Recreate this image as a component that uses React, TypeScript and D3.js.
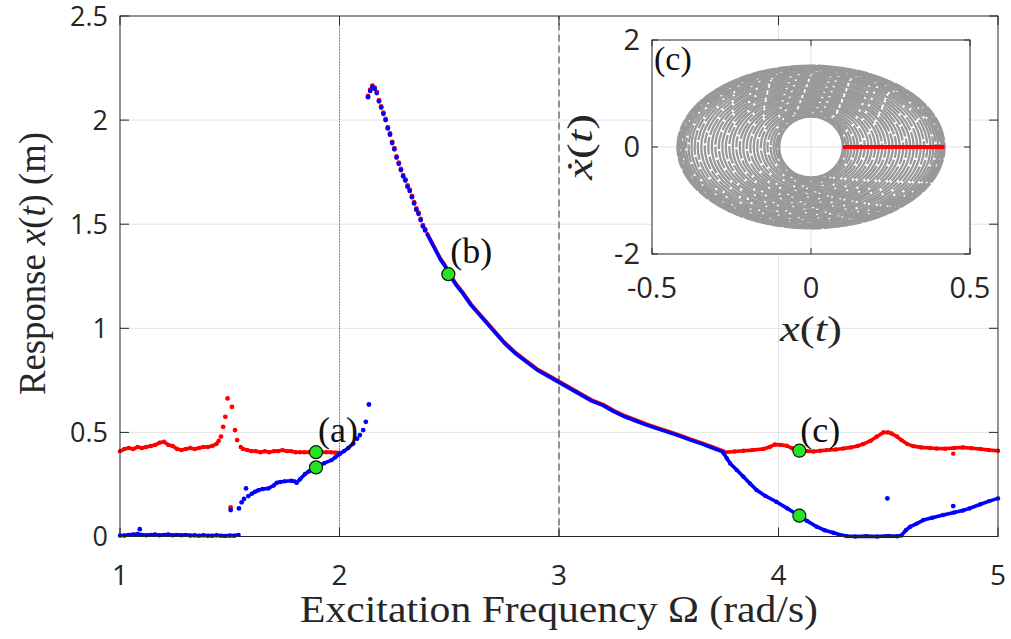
import React from "react";
import * as d3 from "d3";

// ---------- data ----------
const xTicks = [1, 2, 3, 4, 5];
const yTicks = [0, 0.5, 1, 1.5, 2, 2.5];
const yTickLabels = ["0", "0.5", "1", "1.5", "2", "2.5"];

// red branch (dense segments) [Omega, amplitude]
const redLow: [number, number][] = [
  [1.0, 0.41], [1.02, 0.42], [1.04, 0.425], [1.06, 0.42], [1.08, 0.43], [1.1, 0.425], [1.12, 0.43],
  [1.14, 0.435], [1.16, 0.44], [1.18, 0.45], [1.2, 0.455], [1.22, 0.44], [1.24, 0.435], [1.26, 0.42],
  [1.28, 0.415], [1.3, 0.42], [1.32, 0.425], [1.34, 0.42], [1.36, 0.425], [1.38, 0.43], [1.4, 0.43],
  [1.42, 0.435], [1.44, 0.445], [1.45, 0.46],
];
const redSpike: [number, number][] = [
  [1.46, 0.48], [1.47, 0.527], [1.48, 0.575], [1.49, 0.663], [1.51, 0.623], [1.524, 0.511], [1.534, 0.463],
  [1.504, 0.14],
];
const redMid: [number, number][] = [
  [1.55, 0.43], [1.56, 0.42], [1.58, 0.415], [1.6, 0.41], [1.62, 0.41], [1.64, 0.405], [1.66, 0.41],
  [1.68, 0.405], [1.7, 0.41], [1.72, 0.41], [1.74, 0.415], [1.76, 0.41], [1.78, 0.41], [1.8, 0.405],
  [1.82, 0.405], [1.84, 0.405], [1.86, 0.405], [1.88, 0.405], [1.9, 0.405], [1.92, 0.405], [1.94, 0.405],
  [1.96, 0.405], [1.98, 0.403], [2.0, 0.403],
];
const redHigh: [number, number][] = [
  [3.75, 0.404], [3.8, 0.408], [3.84, 0.412], [3.88, 0.415], [3.93, 0.42], [3.96, 0.43], [3.984, 0.442],
  [4.01, 0.44], [4.037, 0.436], [4.06, 0.425], [4.095, 0.412], [4.13, 0.41], [4.16, 0.408], [4.19, 0.412],
  [4.22, 0.415], [4.26, 0.418], [4.295, 0.423], [4.33, 0.428], [4.36, 0.435], [4.386, 0.444], [4.42, 0.46],
  [4.447, 0.479], [4.477, 0.5], [4.5, 0.5], [4.515, 0.495], [4.54, 0.48], [4.56, 0.463], [4.585, 0.445],
  [4.614, 0.434], [4.65, 0.428], [4.69, 0.425], [4.72, 0.423], [4.76, 0.422], [4.8, 0.425], [4.84, 0.428],
  [4.88, 0.424], [4.92, 0.42], [4.96, 0.415], [5.0, 0.412],
];
const redOutliers: [number, number][] = [[4.796, 0.398]];

// resonant branch (shared by both series)
const upperSparse: [number, number][] = [
  [2.13, 2.11], [2.14, 2.14], [2.15, 2.16], [2.16, 2.15], [2.17, 2.13], [2.18, 2.09], [2.19, 2.06],
  [2.2, 2.03], [2.21, 2.0], [2.22, 1.96], [2.23, 1.93], [2.24, 1.89], [2.25, 1.86], [2.26, 1.82],
  [2.27, 1.79], [2.28, 1.76], [2.29, 1.73], [2.3, 1.71], [2.31, 1.68], [2.32, 1.66], [2.33, 1.63],
  [2.34, 1.6], [2.35, 1.57], [2.36, 1.55], [2.37, 1.52], [2.38, 1.49], [2.39, 1.47],
];
const upperDense: [number, number][] = [
  [2.4, 1.45], [2.42, 1.41], [2.44, 1.37], [2.46, 1.33], [2.48, 1.3], [2.5, 1.26], [2.53, 1.21],
  [2.56, 1.17], [2.6, 1.11], [2.65, 1.05], [2.7, 0.99], [2.75, 0.93], [2.8, 0.88], [2.85, 0.84],
  [2.9, 0.8], [2.95, 0.77], [3.0, 0.74], [3.05, 0.71], [3.1, 0.68], [3.15, 0.65], [3.2, 0.63],
  [3.25, 0.6], [3.3, 0.575], [3.35, 0.555], [3.4, 0.535], [3.45, 0.517], [3.5, 0.5], [3.55, 0.482],
  [3.6, 0.463], [3.65, 0.445], [3.7, 0.425], [3.75, 0.405],
];

// blue branch
const blueLow: [number, number][] = [
  [1.0, 0.005], [1.02, 0.005], [1.04, 0.008], [1.06, 0.01], [1.08, 0.012], [1.1, 0.008], [1.12, 0.006],
  [1.14, 0.008], [1.16, 0.01], [1.18, 0.006], [1.2, 0.008], [1.22, 0.01], [1.24, 0.006], [1.26, 0.008],
  [1.28, 0.006], [1.3, 0.008], [1.32, 0.005], [1.34, 0.006], [1.36, 0.004], [1.38, 0.006], [1.4, 0.004],
  [1.42, 0.004], [1.44, 0.006], [1.46, 0.004], [1.48, 0.003], [1.5, 0.005], [1.52, 0.004], [1.54, 0.008],
];
const blueSparse: [number, number][] = [
  [1.09, 0.035], [1.504, 0.127], [1.542, 0.135], [1.554, 0.164], [1.565, 0.18], [1.574, 0.231],
  [1.585, 0.194], [2.08, 0.47], [2.093, 0.487], [2.108, 0.511], [2.12, 0.551], [2.134, 0.634],
  [4.496, 0.183], [4.796, 0.146],
];
const blueRise: [number, number][] = [
  [1.6, 0.205], [1.615, 0.215], [1.63, 0.222], [1.65, 0.228], [1.676, 0.231], [1.7, 0.245], [1.714, 0.258],
  [1.73, 0.262], [1.75, 0.265], [1.78, 0.268], [1.795, 0.265], [1.805, 0.258], [1.82, 0.275], [1.843, 0.3],
  [1.86, 0.312], [1.88, 0.325], [1.893, 0.332], [1.91, 0.342], [1.93, 0.352], [1.964, 0.367], [1.98, 0.38],
  [2.0, 0.395], [2.02, 0.41], [2.04, 0.425], [2.063, 0.447],
];
const blueHigh: [number, number][] = [
  [3.75, 0.4], [3.765, 0.375], [3.78, 0.351], [3.81, 0.319], [3.84, 0.287], [3.87, 0.255], [3.9, 0.223],
  [3.94, 0.195], [3.99, 0.167], [4.04, 0.135], [4.095, 0.1], [4.13, 0.075], [4.174, 0.047], [4.21, 0.03],
  [4.25, 0.018], [4.28, 0.008], [4.31, 0.002], [4.35, 0.0], [4.4, 0.002], [4.45, 0.0], [4.5, 0.003],
  [4.54, 0.001], [4.56, 0.005], [4.58, 0.03], [4.6, 0.047], [4.63, 0.062], [4.66, 0.079], [4.7, 0.09],
  [4.75, 0.103], [4.8, 0.115], [4.84, 0.125], [4.87, 0.135], [4.92, 0.155], [4.96, 0.17], [5.0, 0.183],
];

const markers: [number, number][] = [
  [1.893, 0.405], [1.893, 0.332], [2.496, 1.26], [4.095, 0.412], [4.095, 0.1],
];
const annotations: { label: string; x: number; y: number }[] = [
  { label: "(a)", x: 1.993, y: 0.455 },
  { label: "(b)", x: 2.6, y: 1.313 },
  { label: "(c)", x: 4.19, y: 0.455 },
];

// inset phase portrait
const insetXTicks = [-0.5, 0, 0.5];
const insetXTickLabels = ["-0.5", "0", "0.5"];
const insetYTicks = [-2, 0, 2];
const insetYTickLabels = ["-2", "0", "2"];
const ringAx = [
  0.1, 0.104, 0.11, 0.118, 0.127, 0.137, 0.147, 0.158, 0.169, 0.18, 0.191, 0.202, 0.213, 0.224, 0.235,
  0.246, 0.257, 0.268, 0.279, 0.29, 0.301, 0.312, 0.323, 0.334, 0.345, 0.356, 0.366, 0.376, 0.385,
  0.393, 0.4, 0.406, 0.411, 0.415, 0.418, 0.42,
];
const ringAy = [
  0.57, 0.582, 0.6, 0.623, 0.65, 0.68, 0.71, 0.742, 0.775, 0.808, 0.84, 0.873, 0.906, 0.938, 0.971,
  1.004, 1.036, 1.069, 1.102, 1.134, 1.167, 1.2, 1.232, 1.265, 1.298, 1.33, 1.36, 1.39, 1.416,
  1.44, 1.461, 1.479, 1.494, 1.506, 1.514, 1.52,
];
const poincare: [number, number][] = [[0.1, 0], [0.42, 0]];

// ---------- layout ----------
const W = 1011;
const H = 639;
const AX = "#262626";
const GRID = "#e3e3e3";
const TICKFONT = "'Open Sans', 'Noto Sans', sans-serif";
const SERIF = "'Liberation Serif', 'DejaVu Serif', serif";

export default function App() {
  const x = d3.scaleLinear().domain([1, 5]).range([120, 998]);
  const y = d3.scaleLinear().domain([0, 2.5]).range([536.5, 16]);
  const ix = d3.scaleLinear().domain([-0.5, 0.5]).range([652, 970]);
  const iy = d3.scaleLinear().domain([-2, 2]).range([254, 40]);

  const line = d3
    .line<[number, number]>()
    .x((d) => x(d[0]))
    .y((d) => y(d[1]));

  const [x0, x1] = x.range();
  const [y0, y1] = y.range();
  const [ix0, ix1] = ix.range();
  const [iy0, iy1] = iy.range();
  const tl = 9;
  const itl = 6;

  const dots = (pts: [number, number][], color: string, r: number, dy = 0) =>
    pts.map((d, i) => <circle key={i} cx={x(d[0])} cy={y(d[1]) + dy} r={r} fill={color} />);
  const path = (pts: [number, number][], color: string, w: number, dy = 0) => (
    <path
      d={line(pts) || ""}
      transform={`translate(0,${dy})`}
      fill="none"
      stroke={color}
      strokeWidth={w}
      strokeLinejoin="round"
      strokeLinecap="round"
    />
  );

  return (
    <svg width={W} height={H} style={{ position: "absolute", left: 0, top: 0, background: "#fff" }}>
      <rect x={0} y={0} width={W} height={H} fill="#fff" />
      {/* grid */}
      {yTicks.slice(1, -1).map((t) => (
        <line key={"gy" + t} x1={x0} x2={x1} y1={y(t)} y2={y(t)} stroke={GRID} strokeWidth={1} />
      ))}
      {xTicks.slice(1, -1).map((t) => (
        <line key={"gx" + t} x1={x(t)} x2={x(t)} y1={y0} y2={y1} stroke={GRID} strokeWidth={1} />
      ))}
      {/* reference lines */}
      <line x1={x(2)} x2={x(2)} y1={y0} y2={y1} stroke="#333" strokeWidth={1} strokeDasharray="1 2" />
      <line x1={x(3)} x2={x(3)} y1={y0} y2={y1} stroke="#333" strokeWidth={1} strokeDasharray="7 4" />

      {/* red series */}
      {path(redLow, "#ff0000", 3.6)}
      {path(redMid, "#ff0000", 3.6)}
      {path(redHigh, "#ff0000", 3.6)}
      {path(upperDense, "#ff0000", 3.6, -1)}
      {dots(redLow, "#ff0000", 2.2)}
      {dots(redSpike, "#ff0000", 2.4)}
      {dots(redMid, "#ff0000", 2.2)}
      {dots(redHigh, "#ff0000", 2.2)}
      {dots(redOutliers, "#ff0000", 2.2)}
      {dots(upperSparse, "#ff0000", 2.4, -1.2)}

      {/* blue series */}
      {path(blueLow, "#0000ff", 3.6)}
      {path(blueRise, "#0000ff", 3.6)}
      {path(blueHigh, "#0000ff", 3.6)}
      {path(upperDense, "#0000ff", 3.6)}
      {dots(blueLow, "#0000ff", 2.2)}
      {dots(blueSparse, "#0000ff", 2.4)}
      {dots(blueRise, "#0000ff", 2.2)}
      {dots(blueHigh, "#0000ff", 2.2)}
      {dots(upperSparse, "#0000ff", 2.4)}

      {/* markers */}
      {markers.map((d, i) => (
        <circle key={"m" + i} cx={x(d[0])} cy={y(d[1])} r={6.5} fill="#22e622" stroke="#111" strokeWidth={1.2} />
      ))}
      {annotations.map((a) => (
        <text
          key={a.label}
          x={x(a.x)}
          y={y(a.y)}
          textAnchor="middle"
          fontFamily={SERIF}
          fontSize={36}
          fill="#111"
        >
          {a.label}
        </text>
      ))}

      {/* main axes frame */}
      <rect x={x0} y={y1} width={x1 - x0} height={y0 - y1} fill="none" stroke={AX} strokeWidth={1} />
      {xTicks.map((t) => (
        <g key={"xt" + t}>
          <line x1={x(t)} x2={x(t)} y1={y0} y2={y0 - tl} stroke={AX} />
          <line x1={x(t)} x2={x(t)} y1={y1} y2={y1 + tl} stroke={AX} />
          <text x={x(t)} y={y0 + 48} textAnchor="middle" fontFamily={TICKFONT} fontSize={28} fill={AX}>
            {t}
          </text>
        </g>
      ))}
      {yTicks.map((t, i) => (
        <g key={"yt" + t}>
          <line x1={x0} x2={x0 + tl} y1={y(t)} y2={y(t)} stroke={AX} />
          <line x1={x1} x2={x1 - tl} y1={y(t)} y2={y(t)} stroke={AX} />
          <text x={x0 - 12} y={y(t) + 9.5} textAnchor="end" fontFamily={TICKFONT} fontSize={27} fill={AX}>
            {yTickLabels[i]}
          </text>
        </g>
      ))}
      <text
        x={559}
        y={622}
        textAnchor="middle"
        fontFamily={SERIF}
        fontSize={37}
        fill={AX}
        textLength={518}
        lengthAdjust="spacingAndGlyphs"
      >
        Excitation Frequency Ω (rad/s)
      </text>
      <text
        transform={`translate(45,263.5) rotate(-90)`}
        textAnchor="middle"
        fontFamily={SERIF}
        fontSize={38}
        fill={AX}
        textLength={263}
        lengthAdjust="spacingAndGlyphs"
      >
        Response <tspan fontStyle="italic">x</tspan>(<tspan fontStyle="italic">t</tspan>) (m)
      </text>

      {/* inset */}
      <rect x={ix0} y={iy1} width={ix1 - ix0} height={iy0 - iy1} fill="#fff" />
      <line x1={ix(0)} x2={ix(0)} y1={iy0} y2={iy1} stroke={GRID} />
      <line x1={ix0} x2={ix1} y1={iy(0)} y2={iy(0)} stroke={GRID} />
      {ringAx.map((a, i) => (
        <ellipse
          key={"r" + i}
          cx={ix(0)}
          cy={iy(0)}
          rx={ix(a) - ix(0)}
          ry={iy(0) - iy(ringAy[i])}
          fill="none"
          stroke="#999999"
          strokeWidth={2.3}
          strokeDasharray={i % 3 === 1 ? "18 2" : i % 3 === 2 ? "11 2 25 2" : undefined}
        />
      ))}
      <line
        x1={ix(poincare[0][0])}
        x2={ix(poincare[1][0])}
        y1={iy(poincare[0][1])}
        y2={iy(poincare[1][1])}
        stroke="#ff0000"
        strokeWidth={4}
      />
      <rect x={ix0} y={iy1} width={ix1 - ix0} height={iy0 - iy1} fill="none" stroke={AX} strokeWidth={1} />
      {insetXTicks.map((t, i) => (
        <g key={"ixt" + t}>
          <line x1={ix(t)} x2={ix(t)} y1={iy0} y2={iy0 - itl} stroke={AX} />
          <line x1={ix(t)} x2={ix(t)} y1={iy1} y2={iy1 + itl} stroke={AX} />
          <text x={ix(t)} y={iy0 + 44} textAnchor="middle" fontFamily={TICKFONT} fontSize={29} fill={AX}>
            {insetXTickLabels[i]}
          </text>
        </g>
      ))}
      {insetYTicks.map((t, i) => (
        <g key={"iyt" + t}>
          <line x1={ix0} x2={ix0 + itl} y1={iy(t)} y2={iy(t)} stroke={AX} />
          <line x1={ix1} x2={ix1 - itl} y1={iy(t)} y2={iy(t)} stroke={AX} />
          <text x={ix0 - 12} y={iy(t) + 10} textAnchor="end" fontFamily={TICKFONT} fontSize={29} fill={AX}>
            {insetYTickLabels[i]}
          </text>
        </g>
      ))}
      <text x={ix0 + 2} y={iy1 + 30} fontFamily={SERIF} fontSize={34} fill="#111">
        (c)
      </text>
      <text
        x={ix(0)}
        y={341}
        textAnchor="middle"
        fontFamily={SERIF}
        fontSize={36}
        fill={AX}
        textLength={62}
        lengthAdjust="spacingAndGlyphs"
      >
        <tspan fontStyle="italic">x</tspan>(<tspan fontStyle="italic">t</tspan>)
      </text>
      <text
        transform={`translate(592,${iy(0)}) rotate(-90)`}
        textAnchor="middle"
        fontFamily={SERIF}
        fontSize={36}
        fill={AX}
        textLength={66}
        lengthAdjust="spacingAndGlyphs"
      >
        <tspan fontStyle="italic">ẋ</tspan>(<tspan fontStyle="italic">t</tspan>)
      </text>
    </svg>
  );
}
